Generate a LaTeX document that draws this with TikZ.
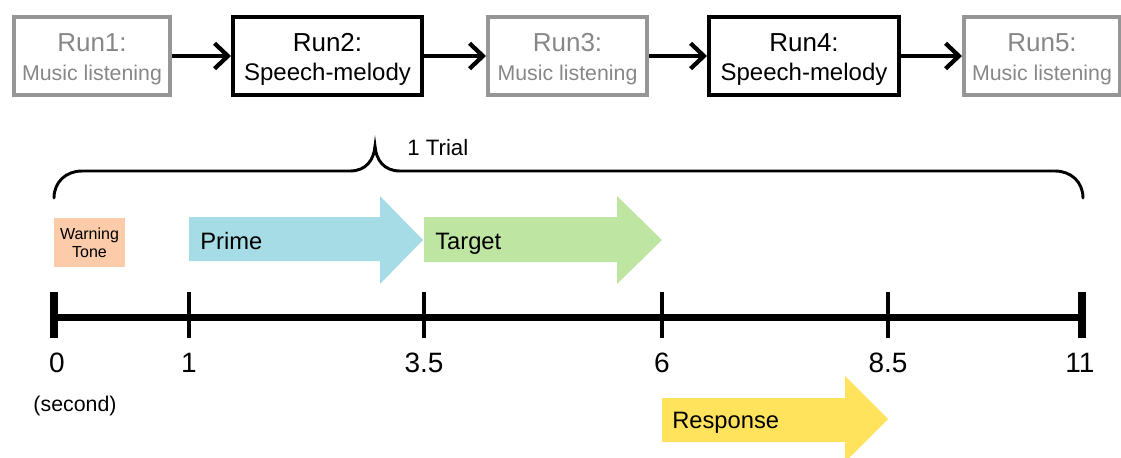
\documentclass[tikz,border=0pt]{standalone}
\usepackage{fontspec}
\setmainfont{Liberation Sans}
\usetikzlibrary{arrows.meta}
\definecolor{runGray}{RGB}{150,150,150}
\definecolor{txtGray}{RGB}{135,135,135}
\definecolor{primeC}{RGB}{166,220,230}
\definecolor{targetC}{RGB}{190,230,162}
\definecolor{respC}{RGB}{255,227,92}
\definecolor{warnC}{RGB}{251,203,170}
\begin{document}
\begin{tikzpicture}[x=0.75pt,y=-0.75pt,
  runbox/.style={draw, line width=3pt, align=center, inner sep=0pt,
    minimum height=58.5pt, text height=40.5pt, text depth=3.4pt,
    font=\fontsize{19.5}{21.75}\selectfont},
  musicbox/.style={runbox, draw=runGray, text=txtGray},
  speechbox/.style={runbox, draw=black, text=black},
  flowarrow/.style={line width=3.2pt, -{Straight Barb[length=10pt,width=19pt]}},
  lbl/.style={inner sep=0pt, anchor=base west, font=\fontsize{17.8}{20}\selectfont},
  ticklbl/.style={inner sep=0pt, anchor=base, font=\fontsize{21}{24}\selectfont},
  majortick/.style={line width=6pt},
  minortick/.style={line width=2.6pt}]
\useasboundingbox (0,0) rectangle (1121,457);

% runs
\node[musicbox, minimum width=117pt] (r1) at (92,56) {Run1:\\{\fontsize{16}{18}\selectfont Music listening}};
\node[speechbox, minimum width=141.75pt] (r2) at (327.5,56) {Run2:\\{\fontsize{18}{20}\selectfont Speech-melody}};
\node[musicbox, minimum width=119.25pt] (r3) at (567.5,56) {Run3:\\{\fontsize{16}{18}\selectfont Music listening}};
\node[speechbox, minimum width=142.5pt] (r4) at (804,56) {Run4:\\{\fontsize{18}{20}\selectfont Speech-melody}};
\node[musicbox, minimum width=117pt] (r5) at (1042,56) {Run5:\\{\fontsize{16}{18}\selectfont Music listening}};
\draw[flowarrow] (r1) -- (r2);
\draw[flowarrow] (r2) -- (r3);
\draw[flowarrow] (r3) -- (r4);
\draw[flowarrow] (r4) -- (r5);

% brace
\draw[line width=2.2pt, line cap=round]
  (54,198) .. controls (54,182) and (66,171) .. (82,171) -- (350,171)
  .. controls (366,171) and (374,160) .. (375,146)
  .. controls (376,160) and (384,171) .. (400,171) -- (1055,171)
  .. controls (1071,171) and (1083,182) .. (1083,198);
\node[lbl, font=\fontsize{16.7}{20}\selectfont] (trial) at (407,155) {1 Trial};

% warning tone
\node[fill=warnC, minimum width=53.25pt, minimum height=36.75pt, inner sep=0pt,
  align=center, font=\fontsize{12}{13.5}\selectfont] (warn) at (89.5,242.5) {Warning\\Tone};

% stage arrows
\fill[primeC] (189,217) -- (380,217) -- (380,196) -- (423,240) -- (380,284) -- (380,261) -- (189,261) -- cycle;
\node[lbl] (prime) at (200,249) {Prime};
\fill[targetC] (424,217) -- (617,217) -- (617,196) -- (662,240) -- (617,284) -- (617,262) -- (424,262) -- cycle;
\node[lbl] (target) at (435,249) {Target};
\fill[respC] (662,398) -- (845,398) -- (845,376) -- (888,419) -- (845,462) -- (845,442) -- (662,442) -- cycle;
\node[lbl] (resp) at (672,428) {Response};

% timeline
\coordinate (t0) at (54,317);
\coordinate (t1) at (189,317);
\coordinate (t35) at (424,317);
\coordinate (t6) at (662,317);
\coordinate (t85) at (888,317);
\coordinate (t11) at (1082,317);
\draw[line width=5.25pt] (t0) -- (t11);
\draw[majortick] ([yshift=19pt]t0) -- ([yshift=-16pt]t0);
\draw[majortick] ([yshift=19pt]t11) -- ([yshift=-16pt]t11);
\foreach \t in {t1,t35,t6,t85}
  \draw[minortick] ([yshift=19pt]\t) -- ([yshift=-16pt]\t);

\node[ticklbl] (l0) at (57,372) {0};
\node[ticklbl] (l1) at (189,372) {1};
\node[ticklbl] (l35) at (424,372) {3.5};
\node[ticklbl] (l6) at (662,372) {6};
\node[ticklbl] (l85) at (888,372) {8.5};
\node[ticklbl] (l11) at (1080,372) {11};
\node[inner sep=0pt, anchor=base, font=\fontsize{16}{18}\selectfont] (sec) at (75,411) {(second)};
\end{tikzpicture}
\end{document}
